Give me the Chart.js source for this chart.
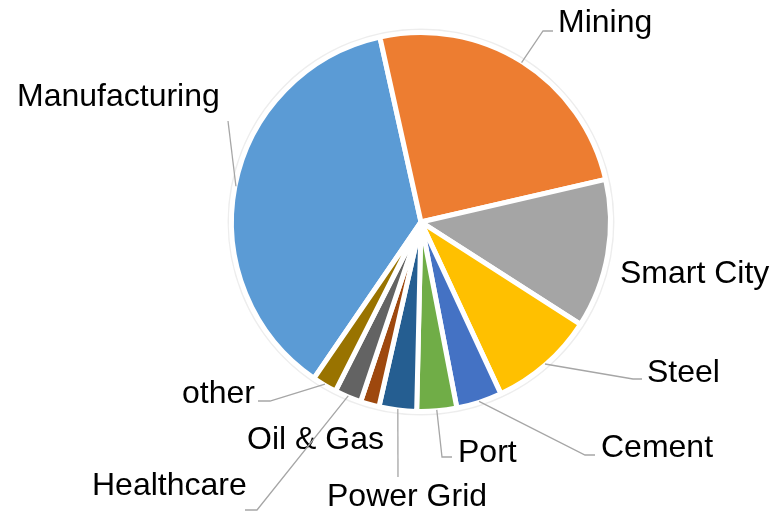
<!DOCTYPE html>
<html>
<head>
<meta charset="utf-8">
<script src="https://cdn.jsdelivr.net/npm/chart.js@4.4.0/dist/chart.umd.min.js"></script>
<style>
    body { margin: 0; background: #ffffff; }
    #wrap { width: 776px; height: 514px; }
</style>
</head>
<body>
<div id="wrap"><canvas id="industryChart" width="776" height="514"></canvas></div>
<script>
// Chart data
const categories = ['Manufacturing', 'Mining', 'Smart City', 'Steel', 'Cement', 'Port', 'Power Grid', 'Oil & Gas', 'Healthcare', 'other'];
const shares = [37.0, 24.9, 12.7, 9.0, 3.9, 3.4, 3.2, 1.6, 2.3, 2.1];
const sliceColors = ['#5B9BD5', '#ED7D31', '#A5A5A5', '#FFC000', '#4472C4', '#70AD47', '#255E91', '#9E480E', '#636363', '#997300'];

// Where each label sits (text left / baseline) and the leader line bend points
const labelLayout = [
    { x: 17,  y: 106, line: [[228, 121]] },
    { x: 558, y: 32,  line: [[543, 31], [553, 31]] },
    { x: 620, y: 283, line: null },
    { x: 647, y: 382, line: [[633, 379], [642, 379]] },
    { x: 601, y: 457, line: [[585, 455], [595, 455]] },
    { x: 458, y: 462, line: [[442, 457], [452, 457]] },
    { x: 327, y: 506, line: [[398, 477]] },
    { x: 247, y: 449, line: null },
    { x: 92,  y: 495, line: [[257, 510], [245, 510]] },
    { x: 182, y: 403, line: [[270, 401], [258, 401]] }
];

// Faint ring around the pie
const ringPlugin = {
    id: 'ring',
    beforeDatasetsDraw(chart) {
        const arc = chart.getDatasetMeta(0).data[0];
        if (!arc) return;
        const ctx = chart.ctx;
        ctx.save();
        ctx.beginPath();
        ctx.arc(arc.x, arc.y, arc.outerRadius + 3, 0, Math.PI * 2);
        ctx.strokeStyle = 'rgba(0, 0, 0, 0.07)';
        ctx.lineWidth = 2;
        ctx.stroke();
        ctx.restore();
    }
};

// Outside labels with leader lines
const outsideLabels = {
    id: 'outsideLabels',
    afterDatasetsDraw(chart) {
        const ctx = chart.ctx;
        const meta = chart.getDatasetMeta(0);
        ctx.save();
        meta.data.forEach(function(arc, i) {
            const layout = labelLayout[i];
            if (layout.line) {
                const mid = (arc.startAngle + arc.endAngle) / 2;
                const r = arc.outerRadius - 1;
                ctx.beginPath();
                ctx.moveTo(arc.x + Math.cos(mid) * r, arc.y + Math.sin(mid) * r);
                layout.line.forEach(function(p) {
                    ctx.lineTo(p[0], p[1]);
                });
                ctx.strokeStyle = '#A6A6A6';
                ctx.lineWidth = 1.3;
                ctx.stroke();
            }
            ctx.font = '32px "Liberation Sans", Arial, sans-serif';
            ctx.fillStyle = '#000000';
            ctx.textAlign = 'left';
            ctx.textBaseline = 'alphabetic';
            ctx.fillText(categories[i], layout.x, layout.y);
        });
        ctx.restore();
    }
};

document.addEventListener('DOMContentLoaded', function() {
    const ctx = document.getElementById('industryChart').getContext('2d');

    new Chart(ctx, {
        type: 'pie',
        data: {
            labels: categories,
            datasets: [{
                data: shares,
                backgroundColor: sliceColors,
                borderColor: '#ffffff',
                borderWidth: 5
            }]
        },
        options: {
            responsive: false,
            animation: false,
            rotation: 214.4,
            layout: {
                padding: { top: 30, bottom: 100, left: 229, right: 163 }
            },
            plugins: {
                legend: { display: false },
                tooltip: { enabled: false }
            }
        },
        plugins: [ringPlugin, outsideLabels]
    });
});
</script>
</body>
</html>
